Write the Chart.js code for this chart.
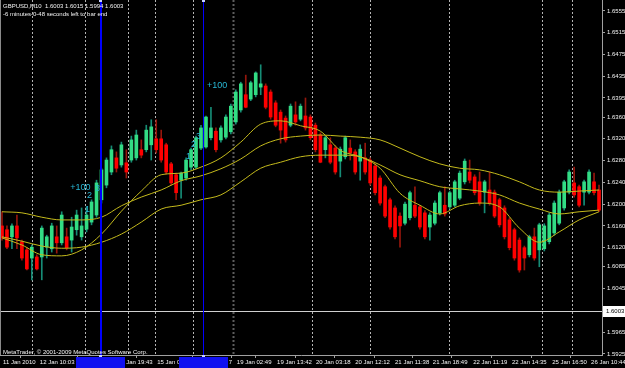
<!DOCTYPE html>
<html>
<head>
<meta charset="utf-8">
<script src="https://cdn.jsdelivr.net/npm/chart.js@4.4.0/dist/chart.umd.min.js"></script>
<style>
  html, body { margin: 0; padding: 0; background: #000; }
  canvas { display: block; }
</style>
</head>
<body>
<canvas id="mtChart" width="625" height="368"></canvas>
<script>
/***** GBPUSD M10 : DATA *****/
// bar 0 is the left edge of the window
var open = [
  1.6160, 1.6153, 1.6140, 1.6160, 1.6131, 1.6116, 1.6101, 1.6103, 1.6103, 1.6121,
  1.6118, 1.6140, 1.6129, 1.6140, 1.6134, 1.6153, 1.6140, 1.6154, 1.6167, 1.6180,
  1.6208, 1.6235, 1.6259, 1.6285, 1.6272, 1.6276, 1.6281, 1.6285, 1.6300, 1.6300,
  1.6309, 1.6320, 1.6320, 1.6309, 1.6274, 1.6254, 1.6244, 1.6248, 1.6268, 1.6268,
  1.6303, 1.6305, 1.6322, 1.6334, 1.6318, 1.6323, 1.6333, 1.6351, 1.6373, 1.6401,
  1.6393, 1.6401, 1.6415, 1.6417, 1.6406, 1.6386, 1.6369, 1.6358, 1.6345, 1.6364,
  1.6356, 1.6362, 1.6360, 1.6345, 1.6327, 1.6300, 1.6309, 1.6303, 1.6279, 1.6287,
  1.6303, 1.6296, 1.6279, 1.6285, 1.6281, 1.6270, 1.6248, 1.6232, 1.6208, 1.6193,
  1.6178, 1.6165, 1.6175, 1.6198, 1.6195, 1.6184, 1.6158, 1.6165, 1.6184, 1.6198,
  1.6195, 1.6198, 1.6211, 1.6241, 1.6259, 1.6250, 1.6241, 1.6222, 1.6226, 1.6222,
  1.6208, 1.6193, 1.6171, 1.6153, 1.6134, 1.6120, 1.6107, 1.6140, 1.6116, 1.6118,
  1.6131, 1.6147, 1.6165, 1.6193, 1.6222, 1.6239, 1.6232, 1.6222, 1.6222, 1.6241,
  1.6226
];
var high = [
  1.6186, 1.6160, 1.6164, 1.6180, 1.6134, 1.6120, 1.6125, 1.6107, 1.6160, 1.6143,
  1.6165, 1.6160, 1.6186, 1.6156, 1.6176, 1.6189, 1.6193, 1.6195, 1.6208, 1.6244,
  1.6266, 1.6285, 1.6307, 1.6296, 1.6314, 1.6300, 1.6325, 1.6336, 1.6318, 1.6345,
  1.6355, 1.6355, 1.6336, 1.6312, 1.6277, 1.6257, 1.6259, 1.6285, 1.6303, 1.6325,
  1.6345, 1.6362, 1.6378, 1.6340, 1.6344, 1.6364, 1.6384, 1.6410, 1.6424, 1.6437,
  1.6426, 1.6443, 1.6456, 1.6421, 1.6410, 1.6390, 1.6373, 1.6362, 1.6384, 1.6388,
  1.6384, 1.6395, 1.6364, 1.6349, 1.6331, 1.6325, 1.6322, 1.6307, 1.6305, 1.6325,
  1.6318, 1.6300, 1.6309, 1.6312, 1.6285, 1.6274, 1.6252, 1.6235, 1.6211, 1.6197,
  1.6184, 1.6204, 1.6224, 1.6232, 1.6198, 1.6188, 1.6184, 1.6206, 1.6224, 1.6232,
  1.6224, 1.6244, 1.6261, 1.6283, 1.6281, 1.6254, 1.6259, 1.6244, 1.6259, 1.6226,
  1.6211, 1.6197, 1.6175, 1.6156, 1.6138, 1.6123, 1.6143, 1.6156, 1.6165, 1.6164,
  1.6184, 1.6206, 1.6226, 1.6244, 1.6263, 1.6268, 1.6235, 1.6244, 1.6263, 1.6257,
  1.6235
];
var low = [
  1.6134, 1.6118, 1.6118, 1.6118, 1.6097, 1.6079, 1.6061, 1.6079, 1.6061, 1.6101,
  1.6112, 1.6110, 1.6125, 1.6116, 1.6112, 1.6143, 1.6134, 1.6149, 1.6162, 1.6176,
  1.6202, 1.6230, 1.6254, 1.6259, 1.6268, 1.6248, 1.6277, 1.6281, 1.6285, 1.6296,
  1.6281, 1.6294, 1.6277, 1.6255, 1.6235, 1.6208, 1.6211, 1.6244, 1.6263, 1.6265,
  1.6300, 1.6303, 1.6318, 1.6296, 1.6314, 1.6320, 1.6329, 1.6347, 1.6369, 1.6377,
  1.6390, 1.6397, 1.6401, 1.6375, 1.6356, 1.6342, 1.6312, 1.6314, 1.6342, 1.6345,
  1.6353, 1.6336, 1.6318, 1.6296, 1.6276, 1.6285, 1.6274, 1.6255, 1.6250, 1.6283,
  1.6281, 1.6255, 1.6244, 1.6255, 1.6235, 1.6217, 1.6198, 1.6175, 1.6154, 1.6136,
  1.6121, 1.6162, 1.6171, 1.6175, 1.6154, 1.6136, 1.6134, 1.6162, 1.6180, 1.6178,
  1.6191, 1.6195, 1.6208, 1.6237, 1.6239, 1.6217, 1.6198, 1.6184, 1.6198, 1.6175,
  1.6158, 1.6136, 1.6116, 1.6097, 1.6075, 1.6079, 1.6103, 1.6097, 1.6085, 1.6114,
  1.6127, 1.6143, 1.6162, 1.6189, 1.6219, 1.6213, 1.6195, 1.6198, 1.6219, 1.6217,
  1.6186
];
var close = [
  1.6138, 1.6121, 1.6160, 1.6138, 1.6101, 1.6081, 1.6121, 1.6081, 1.6156, 1.6140,
  1.6160, 1.6129, 1.6180, 1.6120, 1.6158, 1.6180, 1.6160, 1.6180, 1.6204, 1.6239,
  1.6263, 1.6281, 1.6300, 1.6266, 1.6309, 1.6259, 1.6318, 1.6327, 1.6290, 1.6336,
  1.6342, 1.6300, 1.6281, 1.6259, 1.6239, 1.6221, 1.6257, 1.6281, 1.6300, 1.6322,
  1.6340, 1.6360, 1.6340, 1.6300, 1.6340, 1.6360, 1.6380, 1.6406, 1.6421, 1.6378,
  1.6423, 1.6441, 1.6421, 1.6378, 1.6360, 1.6345, 1.6336, 1.6318, 1.6380, 1.6351,
  1.6380, 1.6340, 1.6322, 1.6300, 1.6277, 1.6322, 1.6277, 1.6259, 1.6301, 1.6322,
  1.6294, 1.6259, 1.6301, 1.6259, 1.6239, 1.6221, 1.6202, 1.6178, 1.6158, 1.6140,
  1.6160, 1.6200, 1.6221, 1.6178, 1.6158, 1.6140, 1.6180, 1.6202, 1.6221, 1.6182,
  1.6221, 1.6241, 1.6257, 1.6279, 1.6244, 1.6221, 1.6202, 1.6241, 1.6202, 1.6178,
  1.6162, 1.6140, 1.6120, 1.6101, 1.6079, 1.6101, 1.6140, 1.6101, 1.6162, 1.6160,
  1.6180, 1.6202, 1.6222, 1.6241, 1.6259, 1.6217, 1.6198, 1.6241, 1.6259, 1.6221,
  1.6189
];

// three moving averages, read every 4th bar
var maIdx = [0, 4, 8, 12, 16, 20, 24, 28, 32, 36, 40, 44, 48, 52, 56, 60,
             64, 68, 72, 76, 80, 84, 88, 92, 96, 100, 104, 108, 112, 116, 120];
var maFast = [1.6138, 1.6125, 1.6107, 1.6105, 1.6116, 1.6145, 1.6187, 1.6224, 1.6254, 1.6257,
              1.6268, 1.6285, 1.6314, 1.6347, 1.6353, 1.6344, 1.6334, 1.6299, 1.6287, 1.6266,
              1.6220, 1.6198, 1.6182, 1.6197, 1.6202, 1.6195, 1.6156, 1.6130, 1.6149, 1.6171, 1.6186];
var maMid = [1.6186, 1.6184, 1.6176, 1.6171, 1.6171, 1.6176, 1.6197, 1.6213, 1.6226, 1.6243,
             1.6252, 1.6265, 1.6283, 1.6307, 1.6320, 1.6325, 1.6327, 1.6325, 1.6323, 1.6318,
             1.6303, 1.6287, 1.6274, 1.6266, 1.6263, 1.6254, 1.6241, 1.6226, 1.6222, 1.6224, 1.6226];
var maSlow = [1.6140, 1.6132, 1.6123, 1.6119, 1.6121, 1.6130, 1.6145, 1.6167, 1.6191, 1.6198,
              1.6208, 1.6217, 1.6241, 1.6266, 1.6277, 1.6287, 1.6290, 1.6290, 1.6287, 1.6272,
              1.6254, 1.6243, 1.6232, 1.6228, 1.6224, 1.6217, 1.6202, 1.6191, 1.6182, 1.6186, 1.6189];

// axis labels
var priceTicks = [1.6555, 1.6515, 1.6475, 1.6435, 1.6395, 1.6360, 1.6320, 1.6280, 1.6240,
                  1.6200, 1.6160, 1.6120, 1.6085, 1.6045, 1.5965, 1.5925];
var timeIdx = [0, 7.4, 23.1, 31.0, 45.4, 47.0, 55.1, 62.9, 70.8, 78.8, 86.4, 94.5, 102.3, 110.4, 118.2];
var timeLabels = ['11 Jan 2010', '12 Jan 10:03', '13 Jan 19:43', '15 Jan 0', '7', '19 Jan 02:49',
                  '19 Jan 13:42', '20 Jan 03:18', '20 Jan 12:12', '21 Jan 11:38', '21 Jan 18:49',
                  '22 Jan 11:19', '22 Jan 14:35', '25 Jan 16:50', '26 Jan 10:44'];

// day separators, vertical line objects, text objects
var sepIdx = [6.0, 16.7, 25.4, 30.8, 38.4, 46.4, 62.3, 74.0, 89.8, 108.6, 114.6];
var darkSep = 46.4;
var vLineIdx = [19.8, 40.4];
var noteText = ['+100', '1', '2', '3', '+100', '1', '2', '3'];
var noteIdx = [13.7, 16.7, 17.1, 18.7, 41.2, 37.0, 38.0, 39.0];
var notePrice = [1.6230, 1.6191, 1.6215, 1.6228, 1.6417, 1.6288, 1.6309, 1.6325];

var bidPrice = 1.6003;
var header1 = 'GBPUSD,M10  1.6003 1.6015 1.5994 1.6003';
var header2 = '-6 minutes-0-48 seconds left to bar end';
var copyright = 'MetaTrader, \u00A9 2001-2009 MetaQuotes Software Corp.';

/***** CHART : START *****/
var FONT = "'Liberation Sans', Arial, sans-serif";
Chart.defaults.font.family = FONT;

var isUp = close.map(function (c, i) { return c >= open[i]; });
var bodyData = open.map(function (o, i) { return { x: i, y: [o, close[i]] }; });
var wickData = low.map(function (l, i) { return { x: i, y: [l, high[i]] }; });

function maPoints(vals) {
    return maIdx.map(function (x, k) { return { x: x, y: vals[k] }; });
}

function maSet(vals) {
    return {
        type: 'line',
        data: maPoints(vals),
        borderColor: 'rgb(196,186,28)',
        borderWidth: 1,
        pointRadius: 0,
        cubicInterpolationMode: 'monotone',
        order: 0
    };
}

var mt4Plugin = {
    id: 'mt4',
    beforeDraw: function (chart) {
        var ctx = chart.ctx;
        ctx.save();
        ctx.fillStyle = '#000000';
        ctx.fillRect(0, 0, chart.width, chart.height);
        ctx.restore();
    },
    beforeDatasetsDraw: function (chart) {
        var ctx = chart.ctx, xs = chart.scales.x, area = chart.chartArea;
        ctx.save();
        ctx.setLineDash([2, 2]);
        sepIdx.forEach(function (v) {
            var dark = v === darkSep;
            var x = Math.round(xs.getPixelForValue(v)) + 0.5;
            ctx.strokeStyle = dark ? '#5c5c5c' : '#b4b4b4';
            ctx.lineWidth = dark ? 2 : 1;
            ctx.beginPath();
            ctx.moveTo(x, 0);
            ctx.lineTo(x, area.bottom);
            ctx.stroke();
        });
        ctx.restore();
    },
    afterDatasetsDraw: function (chart) {
        var ctx = chart.ctx, xs = chart.scales.x, ys = chart.scales.y, area = chart.chartArea;
        ctx.save();

        // bid line
        var py = Math.round(ys.getPixelForValue(bidPrice)) + 0.5;
        ctx.strokeStyle = '#d0d0d0';
        ctx.lineWidth = 1;
        ctx.beginPath();
        ctx.moveTo(area.left, py);
        ctx.lineTo(area.right, py);
        ctx.stroke();

        // vertical line objects
        vLineIdx.forEach(function (v, k) {
            var x = Math.round(xs.getPixelForValue(v));
            ctx.fillStyle = '#0000ff';
            ctx.fillRect(x, 0, k === 0 ? 2 : 1, area.bottom);
            ctx.fillStyle = '#c8d0ff';
            ctx.fillRect(x - 1, 0, 3, 2);
            ctx.fillRect(x - 1, area.bottom, 3, 3);
        });

        // text objects
        ctx.font = '9px ' + FONT;
        ctx.fillStyle = 'rgb(40,182,212)';
        ctx.textBaseline = 'middle';
        ctx.textAlign = 'left';
        noteText.forEach(function (t, k) {
            ctx.fillText(t, xs.getPixelForValue(noteIdx[k]), ys.getPixelForValue(notePrice[k]));
        });

        // left frame
        ctx.fillStyle = '#8a8a8a';
        ctx.fillRect(0, 0, 1, area.bottom);
        ctx.restore();
    },
    afterDraw: function (chart) {
        var ctx = chart.ctx, xs = chart.scales.x, ys = chart.scales.y, area = chart.chartArea;
        ctx.save();
        ctx.font = '6px ' + FONT;
        ctx.textBaseline = 'top';
        ctx.textAlign = 'left';
        ctx.fillStyle = '#f4f4f4';
        ctx.fillText(header1, 3, 3);
        ctx.fillText(header2, 3, 11);
        ctx.fillText(copyright, 3, 349);

        // labels of the selected vertical lines cover the time scale
        vLineIdx.forEach(function (v) {
            var x = xs.getPixelForValue(v);
            ctx.fillStyle = '#1010f0';
            ctx.fillRect(Math.round(x - 24), area.bottom + 2, 49, 11);
        });

        // bid label on the price scale
        var py = Math.round(ys.getPixelForValue(bidPrice));
        ctx.fillStyle = '#ffffff';
        ctx.fillRect(area.right + 1, py - 5, 22, 11);
        ctx.fillStyle = '#000000';
        ctx.textBaseline = 'middle';
        ctx.fillText(bidPrice.toFixed(4), area.right + 4, py + 0.5);
        ctx.restore();
    }
};

var ctx = document.getElementById('mtChart').getContext('2d');
var mtChart = new Chart(ctx, {
    type: 'bar',
    data: {
        datasets: [
            {
                label: 'wick',
                data: wickData,
                backgroundColor: isUp.map(function (u) { return u ? 'rgb(22,140,118)' : 'rgb(150,22,12)'; }),
                barThickness: 1,
                grouped: false,
                order: 2
            },
            {
                label: 'body',
                data: bodyData,
                backgroundColor: isUp.map(function (u) { return u ? 'rgb(50,220,132)' : 'rgb(255,0,0)'; }),
                barThickness: 3,
                minBarLength: 1,
                grouped: false,
                order: 1
            },
            maSet(maFast),
            maSet(maMid),
            maSet(maSlow)
        ]
    },
    options: {
        responsive: false,
        animation: false,
        devicePixelRatio: 1,
        layout: { padding: 0 },
        plugins: { legend: { display: false }, tooltip: { enabled: false } },
        scales: {
            x: {
                type: 'linear',
                min: -0.4,
                max: 120.6,
                offset: false,
                grid: { drawOnChartArea: false, drawTicks: true, tickLength: 3, color: '#a0a0a0' },
                border: { display: true, color: '#a0a0a0' },
                ticks: {
                    color: '#f4f4f4',
                    font: { size: 6 },
                    align: 'start',
                    labelOffset: 1,
                    padding: 1,
                    maxRotation: 0,
                    autoSkip: false,
                    callback: function (v, k) { return timeLabels[k]; }
                },
                afterBuildTicks: function (s) {
                    s.ticks = timeIdx.map(function (v) { return { value: v }; });
                },
                afterFit: function (s) {
                    s.height = 13;
                    s.paddingLeft = 0;
                    s.paddingRight = 0;
                }
            },
            y: {
                position: 'right',
                min: 1.59229,
                max: 1.6575,
                grid: { drawOnChartArea: false, drawTicks: true, tickLength: 3, color: '#a0a0a0' },
                border: { display: true, color: '#a0a0a0' },
                ticks: {
                    color: '#f4f4f4',
                    font: { size: 6 },
                    padding: 2,
                    callback: function (v) { return Number(v).toFixed(4); }
                },
                afterBuildTicks: function (s) {
                    s.ticks = priceTicks.map(function (v) { return { value: v }; });
                },
                afterFit: function (s) {
                    s.width = 23;
                    s.paddingTop = 0;
                    s.paddingBottom = 0;
                }
            }
        }
    },
    plugins: [mt4Plugin]
});
/***** CHART : END *****/
</script>
</body>
</html>
